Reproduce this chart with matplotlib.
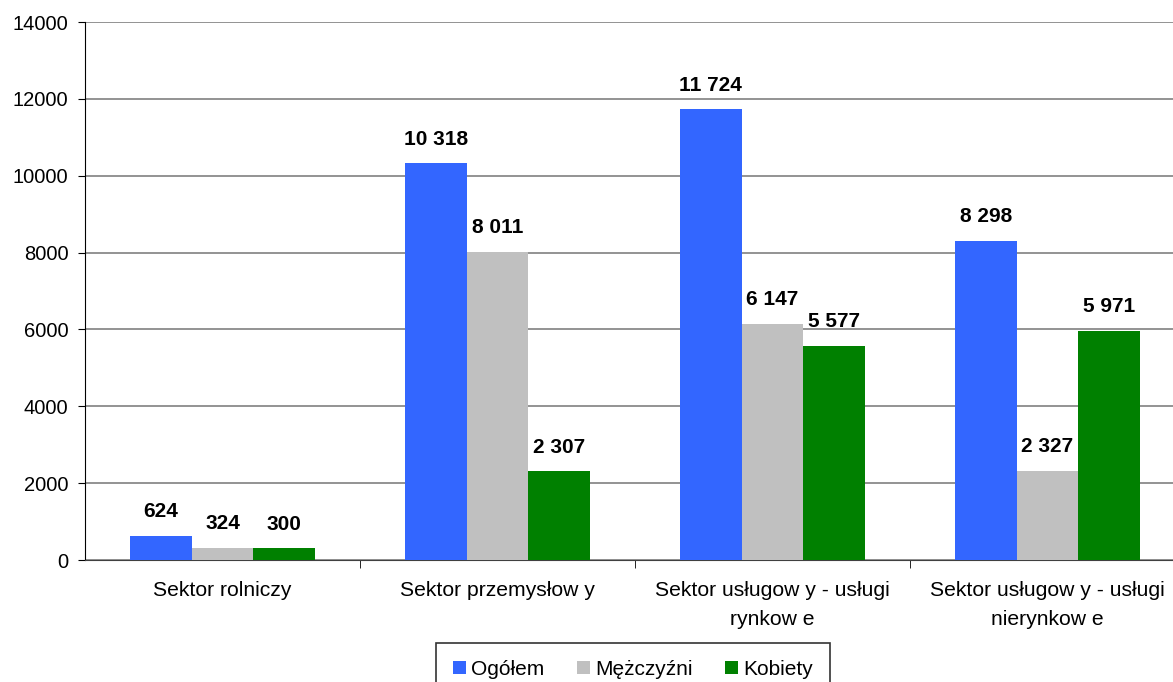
import numpy as np
import matplotlib.pyplot as plt

plt.rcParams['font.family'] = ['Liberation Sans', 'DejaVu Sans']

# data
categories = ['Sektor rolniczy', 'Sektor przemysłow y',
              'Sektor usługow y - usługi\nrynkow e', 'Sektor usługow y - usługi\nnierynkow e']
series_names = ['Ogółem', 'Mężczyźni', 'Kobiety']
ogolem = [624, 10318, 11724, 8298]
mezczyzni = [324, 8011, 6147, 2327]
kobiety = [300, 2307, 5577, 5971]
colors = ['#3366FF', '#C0C0C0', '#008000']

fig = plt.figure(figsize=(11.73, 6.82), dpi=100)
# axes runs a little past the right edge of the picture, as in the original
ax = fig.add_axes([85 / 1173, 1 - 560 / 682, 1100 / 1173, 538 / 682])

x = np.arange(len(categories))
w = 0.225
for i, (vals, name) in enumerate(zip([ogolem, mezczyzni, kobiety], series_names)):
    pos = x + (i - 1) * w
    ax.bar(pos, vals, w, color=colors[i], label=name, zorder=3)
    for px, v in zip(pos, vals):
        ax.annotate(f'{v:,}'.replace(',', ' '), (px, v), xytext=(0, 13.5),
                    textcoords='offset points', ha='center', va='baseline',
                    fontsize=15, fontweight='bold')

ax.set_ylim(0, 14000)
ax.set_yticks(np.arange(0, 14001, 2000))
ax.set_xlim(-0.5, len(categories) - 0.5)
ax.set_xticks(x)
ax.set_xticklabels(categories, fontsize=15.2, linespacing=1.65)
ax.set_xticks(np.arange(0.5, len(categories) - 0.5, 1), minor=True)
ax.tick_params(axis='x', which='major', length=0, pad=15)
ax.tick_params(axis='x', which='minor', length=6, direction='out', color='black')
ax.tick_params(axis='y', labelsize=14.5, length=5, direction='out', pad=7)
ax.grid(axis='y', color='#808080', linewidth=1.2, zorder=0)
for s in ['top', 'right']:
    ax.spines[s].set_visible(False)
ax.spines['left'].set_color('black')
ax.spines['bottom'].set_color('#404040')

leg = fig.legend(loc='upper center', bbox_to_anchor=(633 / 1173, 1 - 643 / 682), ncol=3,
                 fontsize=15, frameon=True, fancybox=False, edgecolor='black',
                 handlelength=0.63, handleheight=0.63, handletextpad=0.25,
                 columnspacing=1.55, borderpad=0.8, borderaxespad=0)
leg.get_frame().set_linewidth(1.2)

fig.savefig('out.png', dpi=100)
